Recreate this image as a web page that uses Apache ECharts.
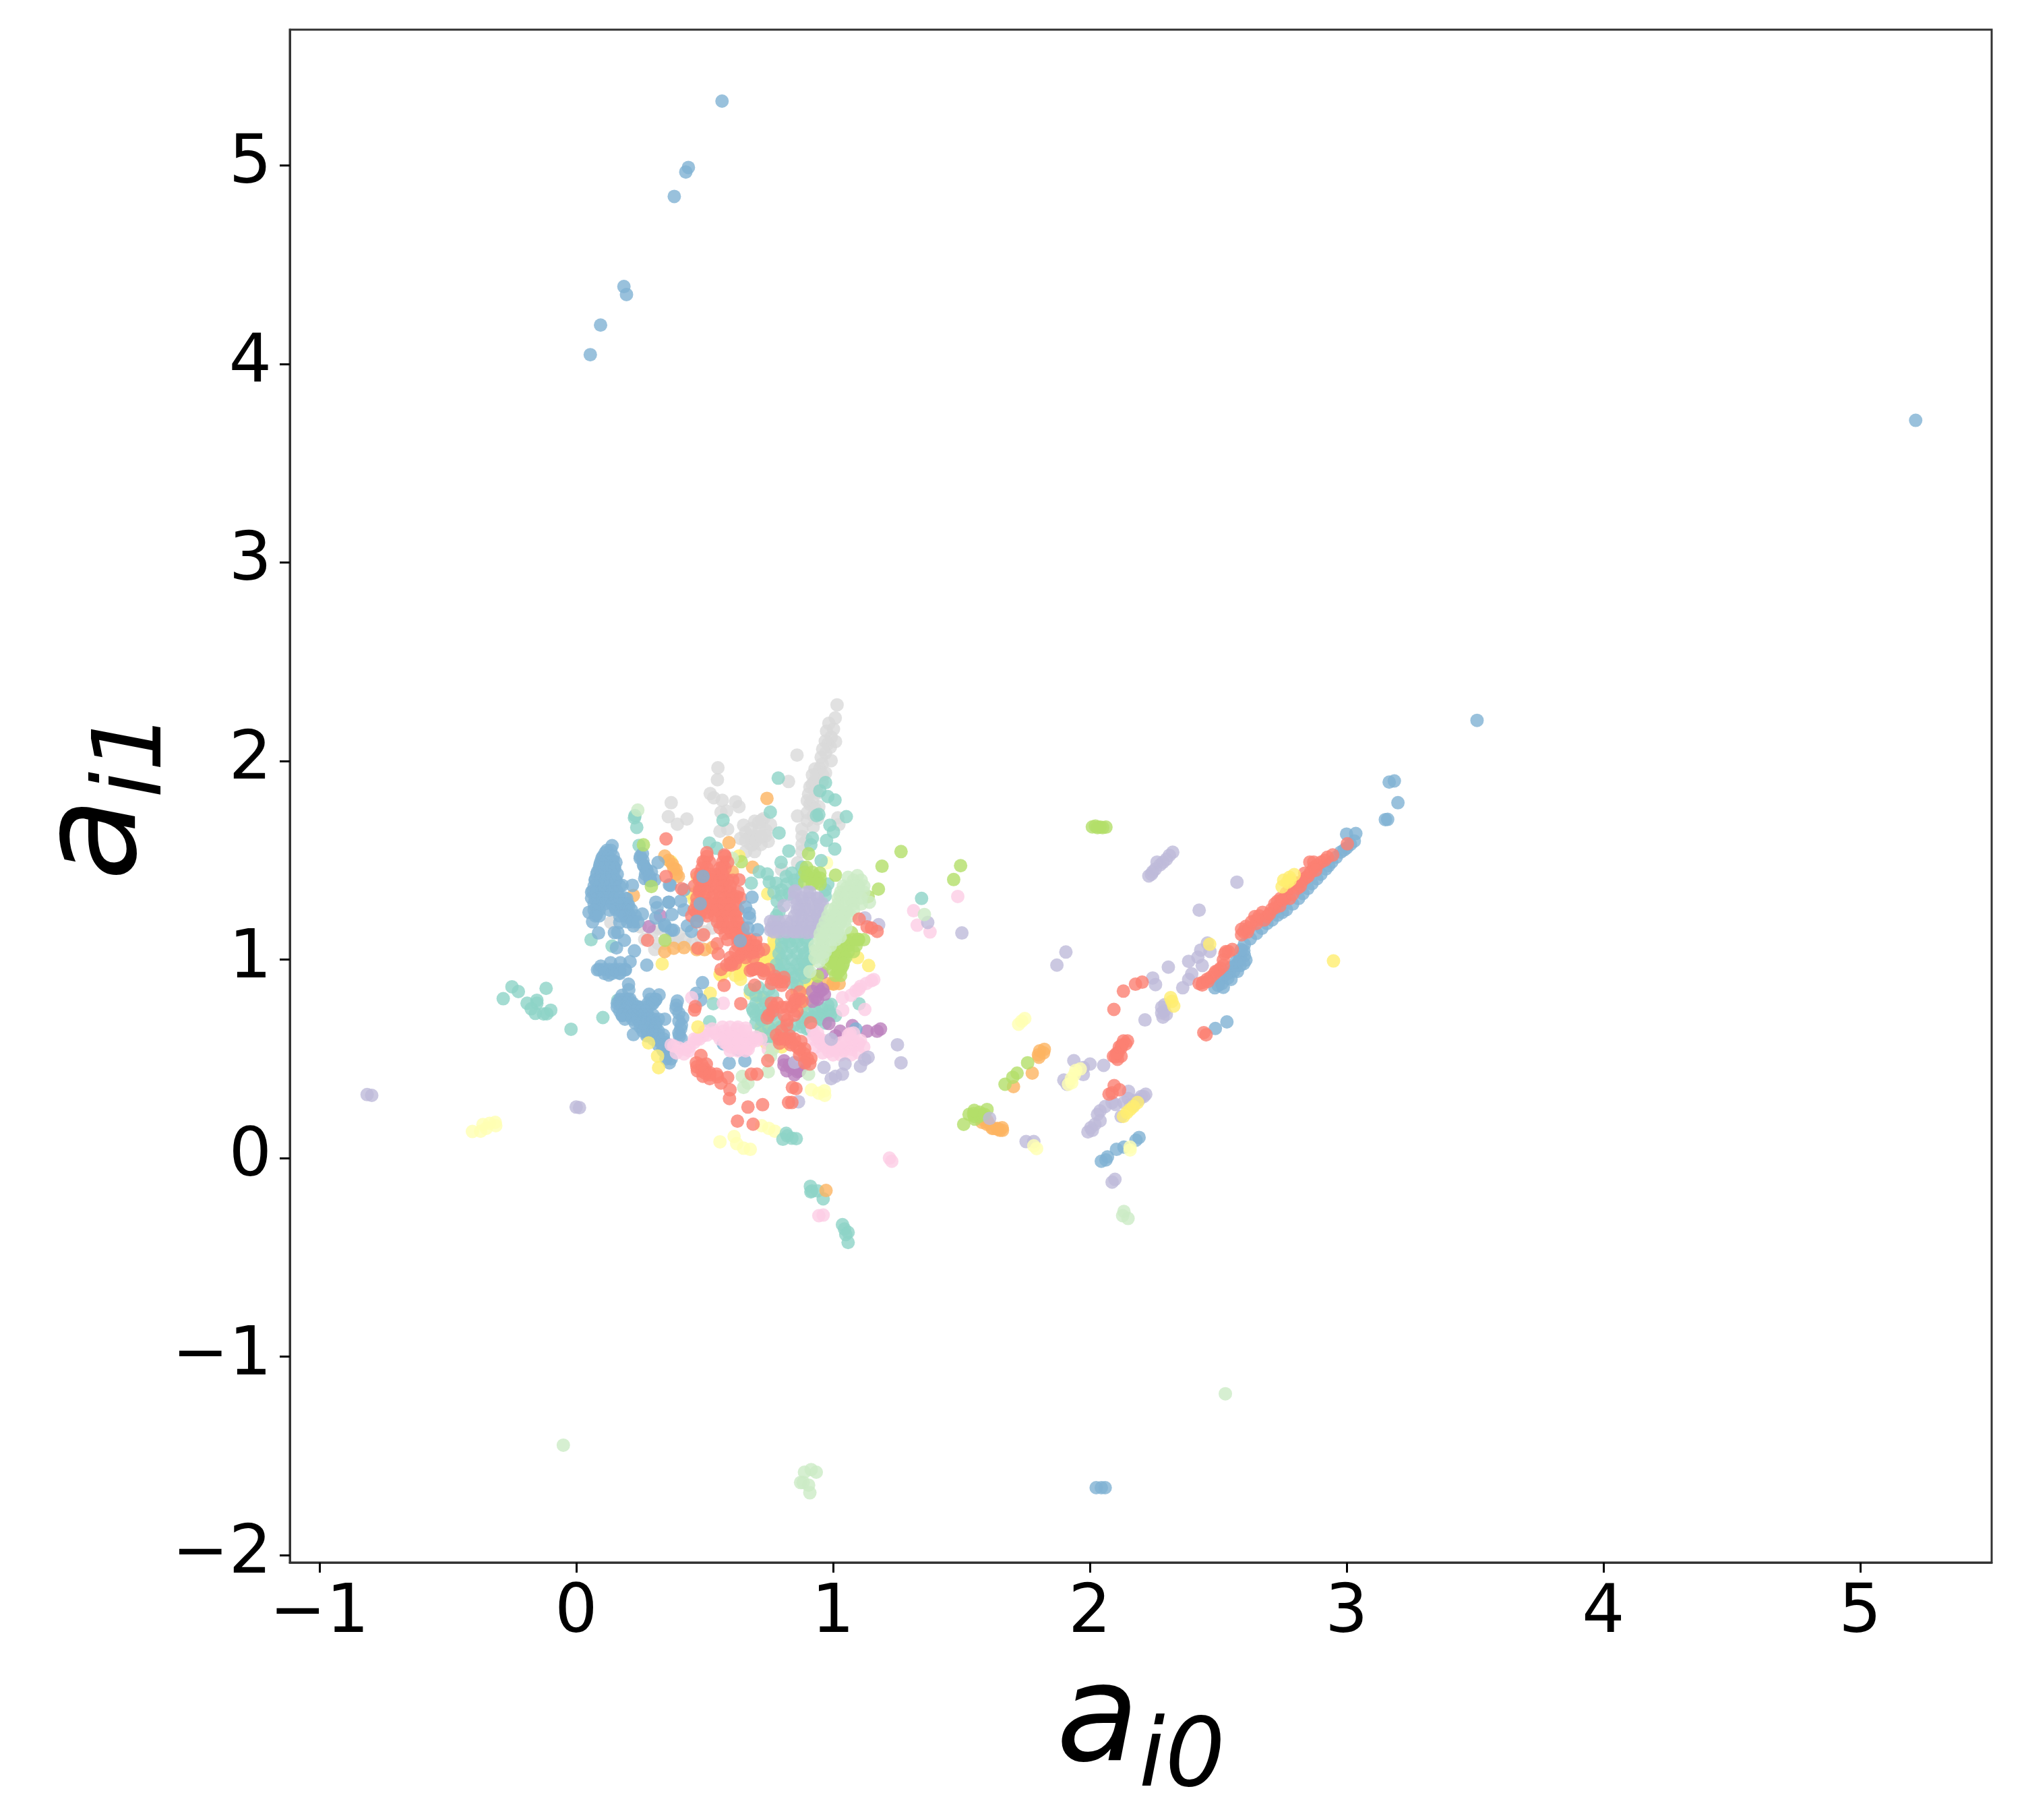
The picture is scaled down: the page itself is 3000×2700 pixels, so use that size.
<!DOCTYPE html>
<html>
<head>
<meta charset="utf-8">
<title>a_i0 vs a_i1</title>
<script src="https://cdn.jsdelivr.net/npm/echarts@6/dist/echarts.min.js"></script>
<style>
html, body { margin: 0; background: #fff; }
#chart { width: 3000px; height: 2700px; }
</style>
</head>
<body>
<div id="chart"></div>
<script>
// values, one list per colour, [a_i0, a_i1]
const xTicks = [-1, 0, 1, 2, 3, 4, 5]
const yTicks = [-2, -1, 0, 1, 2, 3, 4, 5]

const greyPts = [[1.016,2.283],[1.009,2.217],[.975,2.15],[1.002,2.161],[1.01,2.098],[.98,2.087],[.984,2.19],[.993,2.12],[.971,2.04],[.954,2.019],[.993,2.002],[.958,1.985],[.949,1.963],[.936,1.929],[.971,1.94],[.919,1.883],[.958,1.895],[.927,1.895],[.905,1.833],[.94,1.838],[.91,1.782],[.945,1.77],[.923,1.725],[1.019,1.714],[.862,1.723],[.879,1.657],[.923,1.668],[1.023,1.68],[.897,1.6],[.879,1.544],[.862,1.487],[.8,1.453],[.86,2.03],[.827,1.897],
  [.552,1.966],[.55,1.906],[.522,1.836],[.536,1.815],[.569,1.802],[.621,1.795],[.634,1.77],[.564,1.742],[.586,1.748],[.37,1.79],[.359,1.72],[.394,1.682],[.431,1.708],[.56,1.646],[.59,1.657],
  [.652,1.677],[.695,1.697],[.66,1.64],[.722,1.702],[.757,1.68],[.713,1.657],[.678,1.623],[.739,1.623],[.687,1.578],[.748,1.595],[.695,1.544],[.66,1.544],[.73,1.71],
  [.135,1.187],[.249,1.165],[.267,1.102],[.306,1.051],[.345,1.08],[.38,1.097],[.424,1.102],[.485,1.114],[.529,1.159],[.319,1.159]]
const greyDensePts = [[.99,2.07],[.97,2.1],[.96,2.06],[.93,1.96],[.96,1.93],[.92,1.93],[.91,1.87],[.93,1.85],[.9,1.8],[.92,1.8],[.93,1.76],[.9,1.74],[.9,1.7],[.94,1.71],[.88,1.62],[.88,1.58],[.7,1.62],[.68,1.66],[.71,1.69],[.72,1.58],[.74,1.65],[.68,1.58],[.64,1.61],[.66,1.6],[.7,1.6],[.72,1.62],[.3,1.14],[.35,1.13],[.4,1.13],[.45,1.08],[.5,1.14],[.32,1.08],[.36,1.1],[.4,1.08]]

const paleYellowPts = [[-.404,.134],[-.372,.135],[-.363,.169],[-.337,.175],[-.315,.18],[-.313,.163],[-.35,.15],[.56,.082],[.615,.109],[.625,.073],[.652,.05],[.678,.044],[.722,.163],[.774,.135],[.75,.15],[.916,.344],[.945,.327],[.968,.316],[.967,.339],[.975,1.487]]

const yellowPts = [[.369,1.493],[.335,.978],[.746,1.331],[1.096,1.01],[1.139,.97],[.634,1.521],[.472,1.414],[.451,1.329],[.774,1.08],[.757,1.012],[.73,.944],[.643,.944],[.564,.921],[.66,.978],[.783,.967],[.905,.989],[.75,1.05],[.78,1],[.892,.893],[.9,.865],[.903,.786],[.742,.656],[.792,.661],[.779,.605],[.678,.831],[.717,.808],[.639,.927],[.652,.967],[.522,.83],[.56,.927],
  [.72,1],[.74,1.02],[.76,.98],[.74,.96],[.78,1.05],[.77,1.1],[.78,1.14],[.69,.95],[.7,1],[.58,.94],[.62,.92],[.64,.9],[.89,.95],[.91,.88],[.86,.84],[.48,1.36],[.46,1.3],[.5,1.35],[.46,1.25],
  [.72,.66],[.75,.63],[.78,.64],[.8,.62],[.74,.58],[.77,.56],[.8,.56],[.88,.87],[.9,.82],[.88,.76],[.93,.9]]

const orangePts = [[.743,1.812],[.345,1.521],[.389,1.453],[.398,1.419],[.375,1.48],[.595,1.589],[.687,1.465],[.608,1.442],[.223,1.323],[.345,1.04],[.38,1.057],[1.002,.876],[.98,.879],[1.024,.879],[1.823,.548],[1.805,.54],[1.802,.508],[1.776,.428],[1.703,.36],[1.582,.195],[1.606,.175],[1.641,.146],[1.659,.153],[1.625,.15],
  [.36,1.5],[.38,1.46],[.39,1.43],[.42,1.06],[.47,1.05],[.5,1.05],[.53,1.06],[1,.88],[1.6,.17],[1.62,.15],[1.64,.15],[1.65,.14],[1.66,.14],[1.6,.19],[1.58,.18],[1.82,.53],[1.8,.52]]

const tealPts = [[.787,1.914],[.756,1.743],[.572,1.702],[.79,1.638],[.971,1.891],[.949,1.85],[.98,1.821],[1.008,1.804],[1.052,1.72],[.936,1.725],[.945,1.731],[.988,1.677],[1.002,1.643],[.975,1.6],[1.007,1.557],[.92,1.612],[.914,1.578],[.828,1.547],[.798,1.49],[.236,1.666],[.229,1.725],[.227,1.714],[.245,1.575],[.519,1.587],[.547,1.561],[1.345,1.308],[.954,1.498],[.879,1.465],[.84,1.436],
  [.713,1.442],[.744,1.431],[.682,1.385],[.752,1.391],[.779,1.385],[.818,1.419],[.8,1.351],[.98,1.38],[.783,1.295],[.86,1.38],[.9,1.42],
  [.81,1.11],[.85,1.11],[.89,1.11],[.8,1.06],[.84,1.06],[.88,1.06],[.91,1.05],[.8,1],[.84,1],[.88,1],[.91,1],[.79,.95],[.83,.95],[.87,.95],[.9,.95],[.81,.91],[.85,.91],[.89,.91],[.84,.88],[.86,.87],
  [.687,.752],[.73,.81],[.678,.848],[.722,.695],[.765,.82],[.879,.661],[.905,.695],[.958,.752],[.984,.74],[.993,.774],[.94,.729],[.914,.644],[.888,.707],[1.01,.718],[.52,.687],[.534,.778],[1.102,.777],[.162,.795],[.75,.75],[.7,.72],
  [.822,.112],[.84,.1],[.805,.095],[.818,.125],[.857,.098],
  [.912,-.142],[.918,-.165],[.914,-.17],[.94,-.165],[.962,-.205],[1.037,-.335],[1.045,-.357],[1.059,-.374],[1.05,-.385],[1.059,-.425],
  [-.25,.863],[-.225,.839],[-.284,.803],[-.117,.855],[-.153,.795],[-.191,.78],[-.153,.78],[-.175,.752],[-.159,.729],[-.127,.726],[-.114,.727],[-.099,.745],[-.02,.649],[.104,.708],[.058,1.1],[.14,1.068]]
const tealDensePts = [[.8,1.09],[.83,1.09],[.86,1.09],[.9,1.09],[.79,1.03],[.82,1.03],[.86,1.03],[.89,1.03],[.78,.975],[.81,.975],[.86,.975],[.89,.975],[.8,.93],[.84,.93],[.88,.93],
  [.82,1.38],[.85,1.4],[.88,1.42],[.77,1.34],[.8,1.32],[.83,1.33],[.97,1.35],[.97,1.32],[.79,1.24],[.78,1.22],
  [.9,.73],[.93,.75],[.96,.72],[.92,.68],[.95,.7],[.98,.77],[.99,.72],[.88,.68],[.9,.65],[.72,.75],[.7,.78],[.7,.82],[.74,.78],[.76,.72],[.72,.72],[.7,.68],[.75,.66],[.83,.65],[.85,.67],
  [.73,.72],[.78,.7],[.8,.66],[.77,.64],[.74,.6],[.76,.58],[.72,.63],[.69,.74],[.71,.86],[.75,.85],[.92,.71],[.97,.68]]

const purplePts = [[.94,.865],[.958,.933],[.932,.808],[.967,.825],[.984,.678],[1.028,.639],[1.076,.667],[1.01,.616],[1.133,.639],[1.172,.639],[1.185,.65],[.809,.469],[.835,.457],[.862,.435],[.888,.469],[.328,1.221],[.284,1.166],
  [.92,.84],[.95,.84],[.94,.8],[.96,.85],[.92,.79],[.81,.49],[.83,.47],[.85,.45],[.85,.48],[.87,.44],[.82,.44],[.85,.42]]

const bluePts = [[.14,1.574],[.113,1.538],[.1,1.51],[.144,1.498],[.092,1.476],[.148,1.465],[.083,1.442],[.144,1.431],[.074,1.402],[.109,1.419],[.153,1.397],[.065,1.346],[.1,1.363],[.135,1.351],[.074,1.306],[.109,1.306],[.144,1.306],[.079,1.261],[.153,1.261],[.05,1.238],[.079,1.227],[.179,1.238],[.162,1.272],[.197,1.306],[.188,1.261],[.205,1.272],[.205,1.227],[.214,1.204],[.179,1.374],[.219,1.374],[.064,1.19],[.087,1.134],[.17,1.187],[.149,1.136],[.162,1.136],[.188,1.097],[.157,1.059],[.227,1.044],[.223,1.17],[.258,1.229],[.31,1.289],[.315,1.261],[.361,1.289],[.31,1.21],[.367,1.374],[.319,1.489],[.258,1.533],[.249,1.51],[.262,1.476],[.275,1.453],[.293,1.442],[.267,1.408],[.288,1.397],[.306,1.402],[.345,1.17],[.371,1.148],
  [.363,1.376],[.36,1.289],[.407,1.295],[.42,1.351],[.42,1.25],[.373,1.227],[.379,1.148],[.345,1.176],[.433,1.17],[.449,1.142],[.275,.972],
  [.083,.948],[.096,.967],[.127,.922],[.134,.984],[.149,.944],[.172,.984],[.166,.933],[.192,.948],[.21,.989],[.204,.876],[.205,.848],[.179,.82],[.284,.825],[.323,.822],[.31,.797],[.293,.774],[.17,.78],[.205,.797],[.197,.74],[.24,.763],[.179,.718],[.24,.706],[.275,.729],[.293,.695],[.345,.7],[.267,.661],[.302,.639],[.223,.622],[.275,.616],[.319,.593],[.345,.582],[.354,.525],[.363,.48],[.337,.548],
  [.394,.791],[.389,.752],[.415,.707],[.407,.65],[.402,.616],[.492,.884],[.468,.83],[.485,.797],[.596,.478],[.657,.49],[.573,.576],[.63,.548],[1.089,.65],
  [.568,5.324],[.437,4.99],[.427,4.967],[.382,4.844],[.186,4.39],[.196,4.35],[.095,4.196],[.055,4.047],[5.216,3.716],[3.508,2.205],[3.16,1.706],[3.166,1.894],[3.186,1.9],[3.2,1.79],
  [3.151,1.705],[3,1.632],[3.036,1.635],[3.03,1.597],[3,1.562],[2.977,1.541],[2.942,1.491],[2.919,1.456],[2.884,1.407],[2.849,1.358],[2.813,1.308],[2.766,1.252],[2.731,1.224],[2.69,1.182],[2.649,1.132],[2.602,1.076],[2.602,1.02],[2.608,.998],[2.585,1.012],[2.567,.97],[2.544,.935],[2.538,.907],[2.514,.879],[2.487,.858],[2.585,.97],[2.561,.942],[2.534,.686],[2.489,.653],
  [2.192,.104],[2.18,.09],[2.133,.055],[2.104,.044],[2.069,.006],[2.045,-.016],[2.063,-.009],[2.045,-1.66],[2.06,-1.66],[2.025,-1.66]]
const blueDensePts = [[.12,1.55],[.135,1.55],[.105,1.52],[.125,1.52],[.145,1.52],[.095,1.49],[.115,1.49],[.135,1.49],[.155,1.49],[.09,1.46],[.11,1.46],[.13,1.46],[.15,1.46],[.08,1.43],[.1,1.43],[.12,1.43],[.14,1.43],[.16,1.43],[.075,1.4],[.095,1.4],[.115,1.4],[.135,1.4],[.155,1.4],[.07,1.37],[.09,1.37],[.11,1.37],[.13,1.37],[.15,1.37],[.17,1.37],[.06,1.34],[.08,1.34],[.1,1.34],[.12,1.34],[.14,1.34],[.16,1.34],[.06,1.31],[.085,1.31],[.105,1.31],[.125,1.31],[.15,1.31],[.17,1.31],[.19,1.31],[.07,1.28],[.09,1.28],[.11,1.28],[.14,1.28],[.16,1.28],[.18,1.28],[.2,1.28],[.07,1.25],[.09,1.25],[.13,1.25],[.155,1.25],[.175,1.25],[.195,1.25],[.215,1.25],[.075,1.22],[.09,1.22],[.17,1.22],[.19,1.22],[.21,1.22],[.23,1.22],[.2,1.19],[.22,1.19],[.24,1.19],
  [.25,1.52],[.26,1.5],[.265,1.47],[.275,1.45],[.27,1.43],[.285,1.42],[.29,1.4],
  [.09,.95],[.11,.95],[.13,.95],[.15,.95],[.17,.95],[.19,.95],[.11,.93],[.14,.93],[.17,.93],
  [.17,.8],[.19,.8],[.21,.8],[.29,.8],[.31,.8],[.16,.78],[.18,.78],[.2,.78],[.22,.78],[.28,.78],[.3,.78],[.16,.76],[.18,.76],[.2,.76],[.22,.76],[.24,.76],[.26,.76],[.28,.76],[.17,.74],[.19,.74],[.21,.74],[.23,.74],[.25,.74],[.27,.74],[.18,.72],[.2,.72],[.22,.72],[.24,.72],[.26,.72],[.28,.72],[.3,.72],[.19,.7],[.22,.7],[.24,.7],[.26,.7],[.28,.7],[.3,.7],[.32,.7],[.23,.68],[.25,.68],[.27,.68],[.29,.68],[.31,.68],[.25,.66],[.27,.66],[.29,.66],[.31,.66],[.26,.64],[.28,.64],[.3,.64],[.32,.64],[.28,.62],[.3,.62],[.32,.62],[.34,.62],[.3,.6],[.32,.6],[.34,.6],[.32,.57],[.34,.57],[.36,.57],[.34,.54],[.36,.54],[.35,.5],[.37,.5],
  [.39,.77],[.4,.73],[.4,.69],[.41,.67],[.4,.63],[.41,.6],
  [2.625,1.105],[2.67,1.157],[2.71,1.2],[2.75,1.238],[2.79,1.28],[2.83,1.333],[2.865,1.382],[2.9,1.43],[2.93,1.473],[2.96,1.516],[2.99,1.552],[3.015,1.58],
  [2.58,.99],[2.6,1.045],[2.59,1.05],[2.57,.99],[2.55,.96],[2.53,.925],[2.51,.9],[2.5,.87],[2.52,.86],[2.55,.9],[2.575,.94],[2.6,.98]]

const pinkPts = [[.38,.565],[.424,.548],[.459,.582],[.494,.616],[.538,.633],[.573,.639],[.608,.582],[.625,.65],[.66,.655],[.678,.605],[.643,.593],[.704,.593],[.669,.565],[.45,.808],[.573,.78],[1.038,.745],[1.124,.749],[1.037,.808],[1.089,.842],[1.107,.865],[1.15,.893],[1.159,.899],[.94,.605],[.932,.559],[.984,.537],[1.028,.548],[1.072,.548],[1.098,.571],[1.067,.627],[1.107,.593],[1.22,0],[1.229,-.016],[.945,-.29],[.962,-.287],[.748,.548],[1.314,1.246],[1.328,1.173],[1.378,1.139],[1.486,1.318],
  [.4,.555],[.44,.56],[.47,.6],[.51,.62],[.55,.62],[.59,.6],[.6,.63],[.62,.6],[.64,.63],[.65,.6],[.66,.58],[.69,.6],[.62,.57],[.6,.56],[.58,.58],[.64,.55],[.67,.55],[.95,.58],[.97,.56],[1,.55],[1.02,.56],[1.05,.56],[1.08,.57],[1.05,.59],[1.07,.6],[1.1,.58],[.92,.6],[.94,.63],[1.01,.54],[1.04,.54],[1.1,.85],[1.13,.88],[1.07,.82],
  [.57,.66],[.6,.66],[.63,.66],[.66,.64],[.58,.61],[.61,.61],[.56,.6],[.59,.57],[.63,.58],[.68,.58],[.7,.61],[.72,.6],[.6,.54],[.63,.54],[.66,.54],[.92,.65],[.93,.62],[.95,.6],[.97,.59],[.99,.57],[1.03,.58],[1.06,.62],[1.08,.63],[1.03,.52],[1.07,.52],[1.1,.53],[1.12,.56],[.96,.53],[1,.52],[.37,.57],[.39,.53],[.42,.525],[.44,.54],[.46,.6],[.48,.6],[.5,.64],[.53,.65]]

const greenPts = [[1.497,1.473],[1.47,1.403],[2.022,1.672],[2.04,1.667],[2.063,1.667],[1.758,.48],[1.717,.428],[1.7,.407],[1.67,.372],[1.547,.224],[1.571,.231],[1.6,.245],[1.553,.196],[1.509,.17],[1.265,1.544],[1.191,1.47],[1.177,1.355],[1.137,1.317],[1.01,1.425],[.905,1.533],[.897,1.465],[.949,1.436],[.914,1.408],[.94,1.39],[.346,1.097],[.262,1.578],[.293,1.368],[.643,1.493],[1.098,1.102],[1.072,1.136],[1.054,1.068],[1.019,1.023],[1.045,1.012],[1.01,.978],[1.037,.967],[1.019,.933],[.993,.989],[1.019,.955],[.94,.916]]
const greenDensePts = [[1.05,1.1],[1.08,1.1],[1.1,1.1],[1.12,1.1],[1.03,1.07],[1.06,1.07],[1.09,1.07],[1,1.04],[1.03,1.04],[1.06,1.04],[1.08,1.04],[.99,1.01],[1.02,1.01],[1.05,1.01],[.98,.98],[1.01,.98],[1.04,.98],[1,.95],[1.03,.95],[1.01,.92],[1.03,.92],
  [.89,1.44],[.92,1.44],[.9,1.42],[.93,1.42],[.95,1.41],[.89,1.39],[.92,1.38],[.95,1.38],
  [1.57,.21],[1.55,.21],[1.58,.22],[1.53,.22],[1.55,.24],[1.59,.22],[2.03,1.665],[2.05,1.665],[2.01,1.668]]

const lavenderPts = [[.853,1.346],[.91,1.34],[.94,1.306],[.879,1.295],[.87,1.25],[.932,1.25],[.809,1.272],[.967,1.21],[.905,1.193],[.862,1.193],[.818,1.193],[.757,1.193],[.757,1.148],[.8,1.159],[.844,1.142],[.897,1.136],[.94,1.17],[.958,1.283],[1.178,1.176],[1.124,1.21],[1.369,1.187],
  [1.251,.571],[1.265,.48],[1.137,.508],[1.124,.497],[1.107,.463],[1.047,.474],[1.037,.423],[1.01,.412],[.993,.4],[.965,.457],[.851,.482],[.993,.599],[.866,.284],[-.814,.32],[-.796,.316],[0,.257],[.013,.254],
  [2.573,1.39],[2.323,1.541],[2.298,1.505],[2.274,1.477],[2.245,1.442],[2.23,1.421],[2.262,1.491],[2.426,1.249],[1.502,1.134],[1.907,1.038],[1.872,.972],[2.306,.962],[2.215,.696],[2.458,1.083],[2.432,1.048],[2.468,1.041],[2.421,1.012],[2.385,.991],[2.438,.97],[2.397,.928],[2.385,.9],[2.362,.858],[2.245,.907],[2.256,.874],[2.292,.773],[2.28,.731],[2.298,.724],[1.938,.491],[2.001,.474],[2.054,.467],[1.975,.456],[1.975,.421],[1.899,.393],[1.911,.372],[2.151,.336],[2.218,.322],[2.192,.294],[2.169,.266],[2.133,.28],[2.087,.28],[2.04,.238],[2.122,.21],[2.04,.188],[2.004,.153],[1.993,.132],[1.752,.083],[1.782,.083],[2.098,-.107],[2.087,-.121],[1.61,.2]]
const lavenderDensePts = [[.85,1.34],[.9,1.34],[.85,1.31],[.88,1.31],[.91,1.31],[.94,1.31],[.86,1.28],[.89,1.28],[.92,1.28],[.95,1.28],[.86,1.25],[.89,1.25],[.91,1.25],[.95,1.25],[.85,1.22],[.88,1.22],[.91,1.22],[.94,1.22],[.96,1.22],[.77,1.19],[.79,1.19],[.84,1.19],[.88,1.19],[.92,1.19],[.95,1.19],[.76,1.16],[.78,1.16],[.82,1.16],[.86,1.16],[.88,1.16],[.91,1.16],[.94,1.16],[.77,1.14],[.79,1.14],[.82,1.14],[.85,1.14],[.87,1.14],[.91,1.14],[.93,1.14],
  [2.31,1.525],[2.285,1.49],[2.255,1.455],[2.24,1.43],[2.06,.26],[2.1,.27],[2.03,.22],[2.02,.17],[2.01,.14],[2.15,.3],[2.2,.31],[2.21,.31],[2.18,.29],[2.16,.27],[2.28,.76],[2.29,.74],[2.285,.71]]

const mintPts = [[1.095,1.423],[1.059,1.414],[1.098,1.351],[1.054,1.363],[1.028,1.323],[1.072,1.295],[1.142,1.289],[1.01,1.261],[1.054,1.238],[.993,1.204],[1.045,1.193],[.975,1.148],[1.019,1.136],[.949,1.102],[1.028,1.114],[.962,1.034],[.932,1.046],[.945,.989],[1.356,1.227],[.24,1.753],[.608,1.51],[.91,.939],[.765,.548],[.757,.514],[.905,.423],[.748,.435],[.647,.412],[.669,.378],[.652,.356],[2.133,-.269],[2.128,-.29],[2.149,-.304],[2.528,-1.187],[-.05,-1.446],[.915,-1.569],[.889,-1.582],[.935,-1.582],[.884,-1.634],[.905,-1.647],[.874,-1.634],[.91,-1.686]]
const mintDensePts = [[1.08,1.4],[1.11,1.4],[1.04,1.37],[1.07,1.37],[1.1,1.37],[1.12,1.37],[1.03,1.34],[1.06,1.34],[1.09,1.34],[1.12,1.34],[1.02,1.31],[1.05,1.31],[1.08,1.31],[1.11,1.31],[1.02,1.28],[1.05,1.28],[1.08,1.28],[1.11,1.28],[.99,1.25],[1.02,1.25],[1.05,1.25],[1.08,1.25],[.98,1.22],[1.01,1.22],[1.04,1.22],[1.07,1.22],[.97,1.19],[1,1.19],[1.03,1.19],[.96,1.16],[.99,1.16],[1.02,1.16],[1.05,1.16],[.95,1.13],[.98,1.13],[1.01,1.13],[.96,1.1],[.99,1.1],[1.01,1.1],[.93,1.07],[.96,1.07],[.99,1.07],[.94,1.04],[.97,1.04],[.93,1.01],[.96,1.01]]

const redPts = [[3.003,1.583],[2.946,1.527],[2.901,1.491],[2.857,1.491],[2.872,1.463],[2.837,1.435],[2.802,1.386],[2.766,1.336],[2.731,1.294],[2.708,1.252],[2.673,1.238],[2.643,1.217],[2.649,1.182],[2.608,1.167],[2.614,1.139],[2.591,1.125],[2.591,1.153],[2.69,1.217],[2.743,1.308],[2.778,1.308],[2.825,1.393],[2.872,1.491],
  [2.555,1.051],[2.526,1.029],[2.52,.998],[2.509,.956],[2.485,.928],[2.456,.9],[2.426,.879],[2.438,.872],[2.204,.886],[2.178,.876],[2.131,.841],[2.094,.749],[2.444,.632],[2.453,.621],[2.147,.59],[2.131,.59],[2.122,.555],[2.104,.527],[2.092,.513],[2.108,.498],[2.122,.513],[2.095,.365],[2.087,.329],[2.075,.322],[2.116,.344],
  [.35,1.608],[.509,1.538],[.577,1.527],[.494,1.493],[.569,1.465],[.485,1.431],[.555,1.431],[.634,1.402],[.35,1.419],[.507,1.385],[.573,1.397],[.481,1.351],[.538,1.34],[.59,1.34],[.625,1.317],[.494,1.283],[.547,1.283],[.599,1.272],[.468,1.238],[.512,1.238],[.564,1.232],[.617,1.238],[.625,1.193],[.573,1.17],[.604,1.136],[.634,1.159],[.678,1.102],[.695,1.068],[.73,1.051],[.66,1.051],[.687,1.034],[.643,1.023],[.278,1.097],[.474,1.057],[.496,1.125],[.549,1.08],[.553,1.029],[.608,.989],[.586,.972],[.564,.95],[.704,.955],[.73,.944],[.774,.916],[.809,.91],[.678,.944],[1.133,1.165],[1.102,1.204],[1.172,1.142],[1.15,1.159],[.411,1.357],
  [.695,.871],[.765,.899],[.809,.888],[.792,.888],[.713,.955],[.687,.95],[.604,.972],[.576,.87],[.641,.778],[.464,.763],[.461,.746],[.871,.837],[.853,.797],[.84,.763],[.783,.78],[.765,.74],[.744,.706],[.822,.695],[.913,.682],[.831,.616],[.792,.579],[.835,.571],[.875,.588],[.871,.548],[.888,.525],[.914,.503],[.91,.474],[.486,.517],[.468,.48],[.507,.474],[.472,.44],[.494,.412],[.52,.4],[.547,.423],[.59,.406],[.564,.378],[.599,.344],[.597,.3],[.704,.423],[.682,.423],[.746,.491],[.669,.257],[.726,.269],[.842,.356],[.856,.35],[.827,.28],[.84,.28],[.628,.186],[.689,.171]]
const redDensePts = [[2.6,1.14],[2.62,1.16],[2.63,1.19],[2.65,1.2],[2.66,1.22],[2.68,1.2],[2.7,1.23],[2.72,1.26],[2.72,1.28],[2.74,1.27],[2.75,1.3],[2.76,1.31],[2.79,1.33],[2.78,1.36],[2.81,1.36],[2.82,1.37],[2.84,1.41],[2.85,1.42],[2.86,1.44],[2.885,1.475],[2.88,1.45],[2.915,1.5],[2.925,1.515],
  [2.44,.885],[2.46,.89],[2.47,.91],[2.49,.94],[2.5,.945],[2.52,.97],[2.54,1.04],[2.53,1.04],[2.11,.53],[2.115,.56],[2.125,.57],[2.14,.575],[2.1,.51],
  [.51,1.52],[.58,1.52],[.5,1.49],[.52,1.49],[.57,1.49],[.59,1.49],[.49,1.46],[.51,1.46],[.56,1.46],[.58,1.46],[.47,1.43],[.5,1.43],[.52,1.43],[.54,1.43],[.57,1.43],[.48,1.4],[.51,1.4],[.53,1.4],[.56,1.4],[.59,1.4],[.61,1.4],[.46,1.37],[.49,1.37],[.52,1.37],[.55,1.37],[.57,1.37],[.6,1.37],[.48,1.34],[.51,1.34],[.56,1.34],[.6,1.34],[.63,1.34],[.47,1.31],[.5,1.31],[.53,1.31],[.56,1.31],[.58,1.31],[.61,1.31],[.64,1.31],[.47,1.28],[.51,1.28],[.53,1.28],[.57,1.28],[.59,1.28],[.62,1.28],[.46,1.25],[.49,1.25],[.53,1.25],[.55,1.25],[.58,1.25],[.6,1.25],[.63,1.25],[.45,1.22],[.48,1.22],[.51,1.22],[.54,1.22],[.57,1.22],[.59,1.22],[.62,1.22],[.47,1.19],[.55,1.19],[.57,1.19],[.6,1.19],[.63,1.19],[.56,1.16],[.59,1.16],[.61,1.16],[.65,1.16],[.58,1.13],[.62,1.13],[.65,1.13],[.59,1.1],[.63,1.1],[.66,1.1],[.7,1.1],[.63,1.07],[.67,1.07],[.7,1.07],[.62,1.04],[.65,1.04],[.68,1.04],[.71,1.04],[.6,1.01],[.63,1.01],[.66,1.01],[.69,1.01],[.6,.98],[.62,.98],[.69,.95],[.72,.95],[.75,.95],
  [.76,.88],[.78,.9],[.8,.87],[.73,.93],[.84,.82],[.87,.8],[.85,.78],[.88,.79],[.82,.76],[.86,.74],[.85,.72],[.8,.76],[.77,.76],[.75,.72],[.76,.78],[.82,.67],[.81,.72],[.83,.6],[.85,.6],[.86,.56],[.89,.55],[.84,.58],[.87,.52],[.9,.5],[.89,.48],[.47,.46],[.5,.45],[.49,.47],[.52,.43],[.55,.41],[.5,.43],[.49,.44],[.52,.42],[.78,.62],[.8,.64],[.79,.6],[.81,.6]]

// these few sit on top of the red in the reference
const blueTopPts = [[.494,1.419],[.483,1.281],[.47,1.193],[.639,1.094],[.685,1.314],[.66,1.264],[.674,1.233],[.675,1.21],[.669,1.159],[.707,1.15]]
const yellowTopPts = [[2.778,1.414],[2.755,1.4],[2.749,1.367],[2.796,1.428],[2.77,1.39],[2.78,1.4],[2.467,1.077],[2.315,.808],[2.327,.766],[2.32,.79],[2.186,.28],[2.157,.245],[2.131,.21],[2.17,.26],[2.145,.23],[2.949,.993],[.282,.58],[.317,.514],[.321,.455],[.474,.661]]
const paleYellowTopPts = [[1.747,.703],[1.723,.674],[1.735,.69],[1.946,.442],[1.928,.4],[1.917,.372],[1.963,.449],[1.94,.42],[1.93,.38],[1.782,.062],[1.793,.048],[2.157,.055],[2.157,.041]]
const orangeTopPts = [[.973,-.163]]

const groups = [
  [[...greyPts, ...greyDensePts], '#d9d9d9'],
  [paleYellowPts, '#ffffb3'],
  [yellowPts, '#ffed6f'],
  [orangePts, '#fdb462'],
  [[...tealPts, ...tealDensePts], '#8dd3c7'],
  [purplePts, '#bc80bd'],
  [[...bluePts, ...blueDensePts], '#80b1d3'],
  [pinkPts, '#fccde5'],
  [[...greenPts, ...greenDensePts], '#b3de69'],
  [[...lavenderPts, ...lavenderDensePts], '#bebada'],
  [[...mintPts, ...mintDensePts], '#ccebc5'],
  [[...redPts, ...redDensePts], '#fb8072'],
  [blueTopPts, '#80b1d3'],
  [yellowTopPts, '#ffed6f'],
  [paleYellowTopPts, '#ffffb3'],
  [orangeTopPts, '#fdb462']
]

const font = '"DejaVu Sans"'
const chart = echarts.init(document.getElementById('chart'))

function axisOf(ticks, min, max, nameGap, name) {
  return {
    type: 'value',
    min: min,
    max: max,
    name: name,
    nameLocation: 'middle',
    nameGap: nameGap,
    nameMoveOverlap: false,
    nameTextStyle: {
      rich: {
        // bottom padding on the a lifts it, which leaves the index hanging below
        a: { fontFamily: font, fontStyle: 'italic', fontSize: 200, color: '#000', lineHeight: 240, verticalAlign: 'bottom', padding: [0, 0, 24, 0] },
        s: { fontFamily: font, fontStyle: 'italic', fontSize: 140, color: '#000', lineHeight: 132, verticalAlign: 'bottom' }
      }
    },
    axisLine: { show: true, onZero: false, lineStyle: { color: '#333', width: 3 } },
    axisTick: { show: true, length: 15, customValues: ticks, lineStyle: { color: '#000', width: 3 } },
    axisLabel: {
      customValues: ticks,
      fontFamily: font,
      fontSize: 100,
      color: '#000',
      margin: 27,
      formatter: v => String(v).replace('-', '\u2212')
    },
    splitLine: { show: false }
  }
}

chart.setOption({
  animation: false,
  backgroundColor: '#fff',
  grid: { show: true, left: 430, top: 44, width: 2525, height: 2274, borderColor: '#333', borderWidth: 3, outerBoundsMode: 'none' },
  xAxis: axisOf(xTicks, -1.115, 5.512, 125, '{a|a}{s|i0}'),
  yAxis: axisOf(yTicks, -2.037, 5.684, 158, '{a|a}{s|i1}'),
  series: groups.map(g => ({
    type: 'scatter',
    data: g[0],
    symbolSize: 20,
    silent: true,
    itemStyle: { color: g[1], opacity: 0.8 }
  }))
})
</script>
</body>
</html>
